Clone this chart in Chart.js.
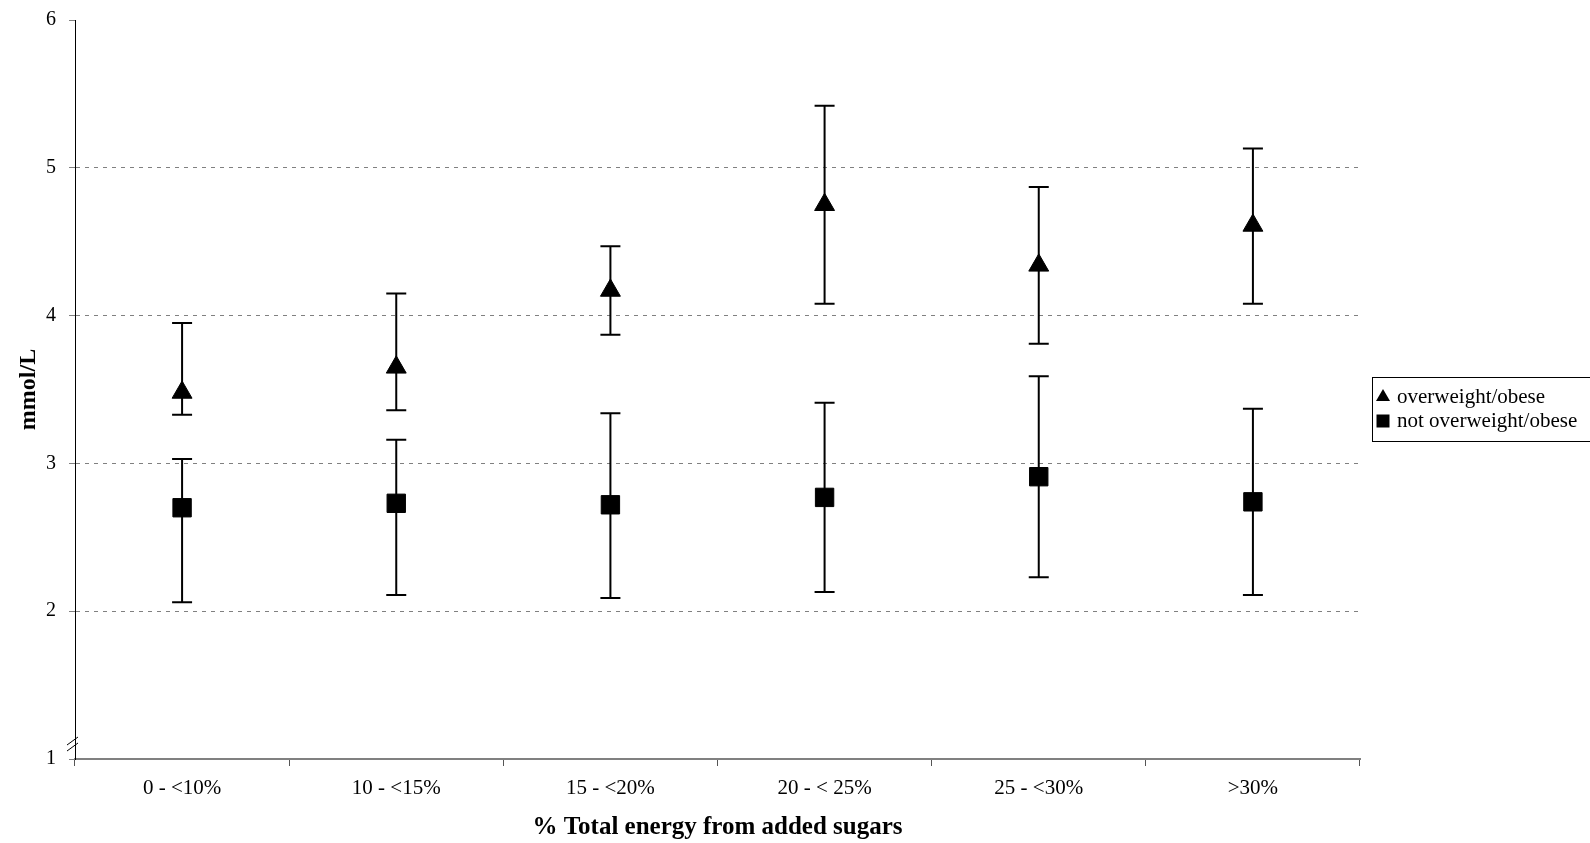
<!DOCTYPE html>
<html>
<head>
<meta charset="utf-8">
<script src="https://cdn.jsdelivr.net/npm/chart.js@4.4.1/dist/chart.umd.min.js"></script>
<style>
  html, body { margin: 0; padding: 0; background: #fff; }
  #wrap { width: 1590px; height: 843px; position: relative; }
</style>
</head>
<body>
<div id="wrap"><canvas id="chart"></canvas></div>
<script>
// categories and values
const categories = ['0 - <10%', '10 - <15%', '15 - <20%', '20 - < 25%', '25 - <30%', '>30%'];

const overweightMean = [3.48, 3.65, 4.17, 4.75, 4.34, 4.61];
const overweightLow  = [3.33, 3.36, 3.87, 4.08, 3.81, 4.08];
const overweightHigh = [3.95, 4.15, 4.47, 5.42, 4.87, 5.13];

const normalMean = [2.70, 2.73, 2.72, 2.77, 2.91, 2.74];
const normalLow  = [2.06, 2.11, 2.09, 2.13, 2.23, 2.11];
const normalHigh = [3.03, 3.16, 3.34, 3.41, 3.59, 3.37];

const yTicks = [1, 2, 3, 4, 5, 6];

const SERIF = "'Liberation Serif', 'Times New Roman', serif";

// error bars, drawn under the markers
const errorBars = {
  id: 'errorBars',
  beforeDatasetsDraw(chart) {
    const ctx = chart.ctx;
    const xs = chart.scales.x;
    const ys = chart.scales.y;
    const capHalf = 10;
    ctx.save();
    ctx.strokeStyle = '#000';
    ctx.lineWidth = 2;
    chart.data.datasets.forEach(ds => {
      ds.data.forEach((v, i) => {
        const x = xs.getPixelForValue(i);
        const yLo = ys.getPixelForValue(ds.errLow[i]);
        const yHi = ys.getPixelForValue(ds.errHigh[i]);
        ctx.beginPath();
        ctx.moveTo(x, yLo); ctx.lineTo(x, yHi);
        ctx.moveTo(x - capHalf, yLo); ctx.lineTo(x + capHalf, yLo);
        ctx.moveTo(x - capHalf, yHi); ctx.lineTo(x + capHalf, yHi);
        ctx.stroke();
      });
    });
    ctx.restore();
  }
};

// axis break mark at the bottom of the y axis + boxed legend on the right
const decorations = {
  id: 'decorations',
  afterDraw(chart) {
    const ctx = chart.ctx;
    const area = chart.chartArea;
    const ax = area.left;
    const ab = area.bottom;

    ctx.save();
    ctx.strokeStyle = '#000';
    ctx.lineWidth = 1;
    ctx.beginPath();
    ctx.moveTo(ax - 8, ab - 14); ctx.lineTo(ax + 3, ab - 22);
    ctx.moveTo(ax - 8, ab - 8);  ctx.lineTo(ax + 3, ab - 16);
    ctx.stroke();

    // legend
    const left = area.right + 12;
    const top = area.top + 357;
    ctx.strokeStyle = '#000';
    ctx.lineWidth = 1;
    ctx.strokeRect(left + 0.5, top + 0.5, 300, 64);

    ctx.fillStyle = '#000';
    ctx.font = '21px ' + SERIF;
    ctx.textBaseline = 'middle';
    ctx.textAlign = 'left';
    chart.data.datasets.forEach((ds, i) => {
      const cy = top + 19 + i * 24;
      const mx = left + 11;
      ctx.beginPath();
      if (ds.pointStyle === 'triangle') {
        ctx.moveTo(mx, cy - 7);
        ctx.lineTo(mx + 7, cy + 5);
        ctx.lineTo(mx - 7, cy + 5);
        ctx.closePath();
      } else {
        ctx.rect(mx - 6.5, cy - 5.5, 13, 13);
      }
      ctx.fill();
      ctx.fillText(ds.label, left + 25, cy + 1);
    });
    ctx.restore();
  }
};

new Chart(document.getElementById('chart'), {
  type: 'line',
  data: {
    labels: categories,
    datasets: [
      {
        label: 'overweight/obese',
        data: overweightMean,
        errLow: overweightLow,
        errHigh: overweightHigh,
        showLine: false,
        pointStyle: 'triangle',
        pointRadius: 11.5,
        pointBackgroundColor: '#000',
        pointBorderColor: '#000',
        pointBorderWidth: 1
      },
      {
        label: 'not overweight/obese',
        data: normalMean,
        errLow: normalLow,
        errHigh: normalHigh,
        showLine: false,
        pointStyle: 'rect',
        pointRadius: 13,
        pointBackgroundColor: '#000',
        pointBorderColor: '#000',
        pointBorderWidth: 1
      }
    ]
  },
  options: {
    responsive: true,
    maintainAspectRatio: false,
    animation: false,
    layout: { padding: { top: 20, right: 230, left: 0, bottom: 0 } },
    plugins: {
      legend: { display: false },
      tooltip: { enabled: false }
    },
    scales: {
      x: {
        type: 'category',
        offset: true,
        afterFit: scale => { scale.height = 84; },
        grid: {
          offset: true,
          drawOnChartArea: false,
          drawTicks: true,
          tickLength: 7,
          tickColor: '#555',
          tickWidth: 1
        },
        border: { display: true, color: '#808080', width: 2 },
        ticks: {
          color: '#000',
          padding: 10,
          maxRotation: 0,
          autoSkip: false,
          font: { family: SERIF, size: 21 }
        },
        title: {
          display: true,
          text: '% Total energy from added sugars',
          color: '#000',
          padding: { top: 0, bottom: 0 },
          font: { family: SERIF, size: 25, weight: 'bold' }
        }
      },
      y: {
        min: 1,
        max: 6,
        afterFit: scale => {
          scale.width = 75;
          scale.paddingTop = 0;
          scale.paddingBottom = 0;
        },
        afterBuildTicks: scale => { scale.ticks = yTicks.map(v => ({ value: v })); },
        grid: {
          color: c => (c.tick && c.tick.value > 1 && c.tick.value < 6) ? '#808080' : 'rgba(0,0,0,0)',
          lineWidth: 1,
          drawTicks: true,
          tickLength: 6,
          tickColor: '#808080',
          tickWidth: 1
        },
        border: { display: true, color: '#000', width: 1, dash: [4, 5] },
        ticks: {
          color: '#000',
          padding: 13,
          font: { family: SERIF, size: 20 }
        },
        title: {
          display: true,
          text: 'mmol/L',
          color: '#000',
          padding: { top: 14, bottom: 0 },
          font: { family: SERIF, size: 24, weight: 'bold' }
        }
      }
    }
  },
  plugins: [errorBars, decorations]
});
</script>
</body>
</html>
